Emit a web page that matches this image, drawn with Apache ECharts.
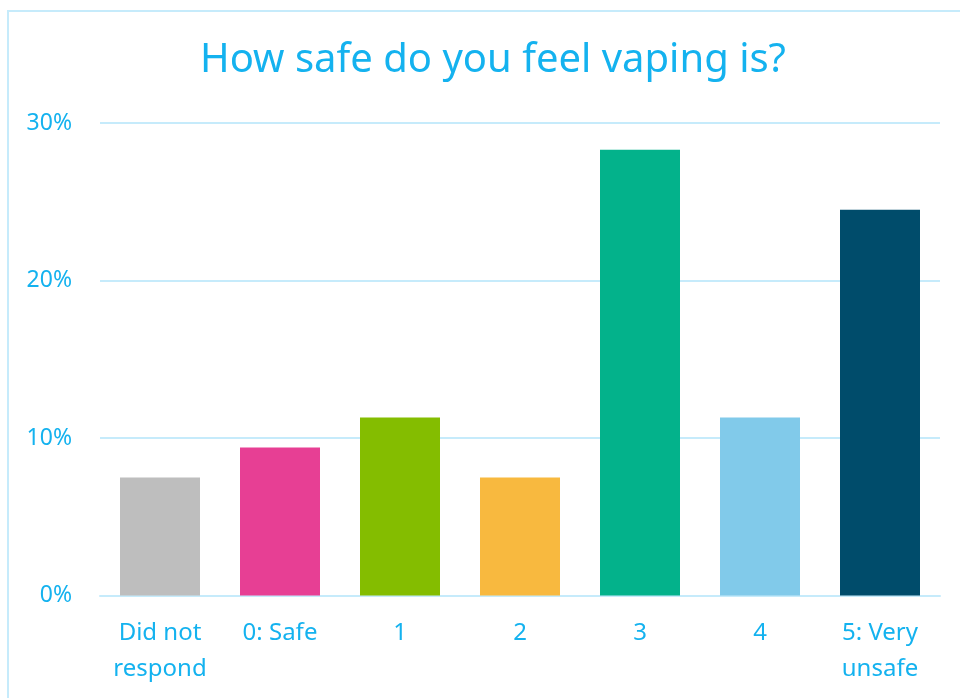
<!DOCTYPE html>
<html>
<head>
<meta charset="utf-8">
<style>
  html, body { margin: 0; padding: 0; background: #ffffff; }
  #chart { width: 960px; height: 698px; }
</style>
<script src="https://cdn.jsdelivr.net/npm/echarts@6/dist/echarts.min.js"></script>
</head>
<body>
<div id="chart"></div>
<script>
// Survey responses: share of respondents per safety rating
const categories = ['Did not\nrespond', '0: Safe', '1', '2', '3', '4', '5: Very\nunsafe'];
const shares = [7.5, 9.4, 11.3, 7.5, 28.3, 11.3, 24.5];
const barColors = ['#bebebe', '#e73f94', '#84bd00', '#f8b93f', '#03b28b', '#81caea', '#004c6b'];
const yTicks = [0, 10, 20, 30];

const textColor = '#14b2ef';
const lineColor = '#c6ebfb';
const fontFamily = '"Noto Sans", "Open Sans", sans-serif';

const chart = echarts.init(document.getElementById('chart'));
chart.setOption({
  animation: false,
  textStyle: { fontFamily: fontFamily },
  graphic: [{
    type: 'rect',
    shape: { x: 8, y: 11, width: 1000, height: 1000 },
    style: { fill: 'none', stroke: lineColor, lineWidth: 2 },
    silent: true
  }],
  title: {
    text: 'How safe do you feel vaping is?',
    left: 488,
    textAlign: 'center',
    top: 36,
    textStyle: { color: textColor, fontSize: 40, fontWeight: 'normal', fontFamily: fontFamily }
  },
  grid: { left: 100, right: 20, top: 123, bottom: 102.5 },
  xAxis: {
    type: 'category',
    data: categories,
    axisLine: { show: true, lineStyle: { color: lineColor, width: 2 } },
    axisTick: { show: false },
    axisLabel: {
      color: textColor, fontSize: 24, lineHeight: 36, margin: 20,
      interval: 0, fontFamily: fontFamily
    }
  },
  yAxis: {
    type: 'value',
    min: yTicks[0],
    max: yTicks[yTicks.length - 1],
    interval: 10,
    axisLine: { show: false },
    axisTick: { show: false },
    splitLine: { lineStyle: { color: lineColor, width: 2 } },
    axisLabel: {
      color: textColor, fontSize: 23, margin: 28, fontFamily: fontFamily,
      formatter: v => v + '%'
    }
  },
  series: [{
    type: 'bar',
    barWidth: 80,
    data: shares.map((v, i) => ({ value: v, itemStyle: { color: barColors[i] } }))
  }]
});
</script>
</body>
</html>
